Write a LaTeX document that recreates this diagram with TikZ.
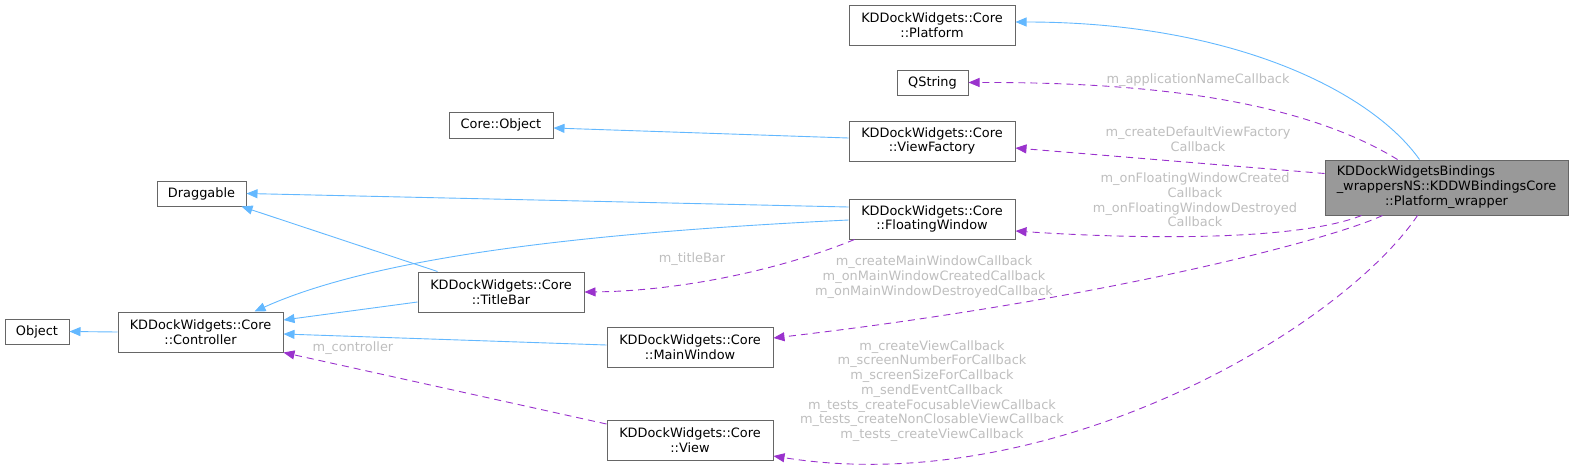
\documentclass[tikz,border=0pt]{standalone}
\usepackage{fontspec}
\setmainfont{DejaVu Sans}
\usetikzlibrary{arrows.meta,calc}
\definecolor{inh}{HTML}{63B8FF}
\definecolor{usg}{HTML}{9A32CD}
\definecolor{lbl}{HTML}{BEBEBE}
\definecolor{brd}{HTML}{666666}
\definecolor{fillw}{HTML}{999999}
\begin{document}
\begin{tikzpicture}[x=1pt,y=-1pt,
  every node/.style={font=\fontsize{12.9}{14.7}\selectfont},
  cls/.style={draw=brd, line width=1pt, fill=white, inner sep=0pt, align=center},
  wide/.style={cls, minimum width=166pt, minimum height=40pt},
  lab/.style={text=lbl, align=center, inner sep=0pt},
  inhedge/.style={draw=inh, line width=0.9pt, -{Triangle[length=11pt,width=9pt]}},
  usgedge/.style={draw=usg, line width=0.9pt, dash pattern=on 7pt off 5pt, -{Triangle[length=11pt,width=9pt]}}]
\useasboundingbox (0,0) rectangle (1573,469);

% nodes
\node[cls, minimum width=64pt, minimum height=25pt] (object) at (37,331.5) {Object};
\node[cls, minimum width=165pt, minimum height=40pt] (controller) at (200.5,332) {KDDockWidgets::Core\\::Controller};
\node[cls, minimum width=89pt, minimum height=25pt] (draggable) at (201.5,193.5) {Draggable};
\node[cls, minimum width=104pt, minimum height=26pt] (coreobject) at (501,125) {Core::Object};
\node[wide] (titlebar) at (501,292) {KDDockWidgets::Core\\::TitleBar};
\node[wide] (platform) at (932,25) {KDDockWidgets::Core\\::Platform};
\node[cls, minimum width=71pt, minimum height=25pt] (qstring) at (932.5,82.5) {QString};
\node[wide] (viewfactory) at (932,141) {KDDockWidgets::Core\\::ViewFactory};
\node[wide] (floating) at (932,219) {KDDockWidgets::Core\\::FloatingWindow};
\node[wide] (mainwindow) at (690,347) {KDDockWidgets::Core\\::MainWindow};
\node[wide] (view) at (690,440) {KDDockWidgets::Core\\::View};
\node[cls, fill=fillw, minimum width=243pt, minimum height=55pt] (wrapper) at (1446.5,187.5)
  {\begin{tabular}{@{}l@{}}KDDockWidgetsBindings\\\_wrappersNS::KDDWBindingsCore\\\multicolumn{1}{@{}c@{}}{::Platform\_wrapper}\end{tabular}};

% inheritance edges
\draw[inhedge] (controller.west) -- (object.east);
\draw[inhedge] ($(titlebar.north west)+(20,0)$) -- ($(draggable.south east)+(-5,0)$);
\draw[inhedge] ($(floating.west)+(0,-12)$) -- (draggable.east);
\draw[inhedge] ($(floating.west)+(0,1)$) .. controls (600,232) and (380,255) .. ($(controller.north east)+(-29,0)$);
\draw[inhedge] ($(titlebar.west)+(0,10)$) -- ($(controller.east)+(0,-12)$);
\draw[inhedge] ($(mainwindow.west)+(0,-2)$) -- ($(controller.east)+(0,2)$);
\draw[inhedge] ($(viewfactory.west)+(0,-3)$) -- ($(coreobject.east)+(0,3)$);
\draw[inhedge] ($(wrapper.north west)+(95,0)$) .. controls (1370,90) and (1230,22) .. ($(platform.east)+(0,-3)$);

% usage edges
\draw[usgedge] ($(wrapper.north west)+(73,0)$) .. controls (1300,100) and (1150,82) .. (qstring.east);
\draw[usgedge] ($(wrapper.north west)+(0,14)$) -- ($(viewfactory.east)+(0,7)$);
\draw[usgedge] ($(wrapper.south west)+(37,0)$) .. controls (1300,240) and (1150,240) .. ($(floating.east)+(0,12)$);
\draw[usgedge] ($(wrapper.south west)+(58,0)$) .. controls (1330,240) and (1100,300) .. ($(mainwindow.east)+(0,-9)$);
\draw[usgedge] ($(wrapper.south west)+(93,0)$) .. controls (1340,330) and (1050,500) .. ($(view.east)+(0,16)$);
\draw[usgedge] ($(floating.south west)+(6,0)$) .. controls (780,270) and (680,291) .. (titlebar.east);
\draw[usgedge] ($(view.west)+(0,-16)$) -- (controller.south east);

% labels
\node[lab] (l1) at (1198,80) {m\_applicationNameCallback};
\node[lab] (l2) at (1198,139) {m\_createDefaultViewFactory\\Callback};
\node[lab] (l3) at (1195,200) {m\_onFloatingWindowCreated\\Callback\\m\_onFloatingWindowDestroyed\\Callback};
\node[lab] (l4) at (934,277) {m\_createMainWindowCallback\\m\_onMainWindowCreatedCallback\\m\_onMainWindowDestroyedCallback};
\node[lab] (l5) at (932,391) {m\_createViewCallback\\m\_screenNumberForCallback\\m\_screenSizeForCallback\\m\_sendEventCallback\\m\_tests\_createFocusableViewCallback\\m\_tests\_createNonClosableViewCallback\\m\_tests\_createViewCallback};
\node[lab] (l6) at (692,259) {m\_titleBar};
\node[lab] (l7) at (353,348) {m\_controller};
\end{tikzpicture}
\end{document}
